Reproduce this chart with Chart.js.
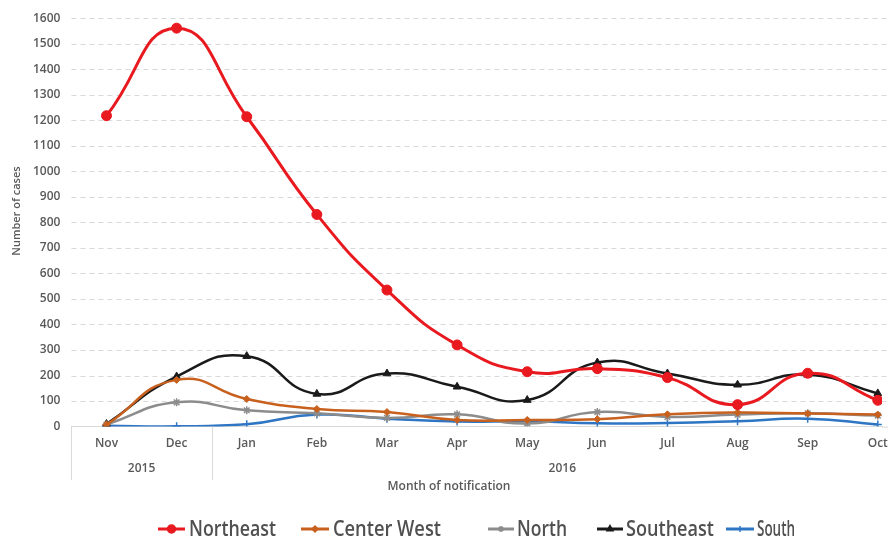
<!DOCTYPE html>
<html><head><meta charset="utf-8">
<script src="https://cdn.jsdelivr.net/npm/chart.js@4/dist/chart.umd.min.js"></script>
<style>html,body{margin:0;padding:0;background:#fff;overflow:hidden}canvas{display:block}</style>
</head><body>
<canvas id="c" width="888" height="540"></canvas>
<script>
const months = ['Nov','Dec','Jan','Feb','Mar','Apr','May','Jun','Jul','Aug','Sep','Oct'];
const years = [{label:'2015', from:0, to:1}, {label:'2016', from:2, to:11}];
const seriesNames = ['Northeast','Center West','North','Southeast','South'];
const northeast  = [1218,1561,1214,831,535,320,215,227,192,86,209,103];
const centerWest = [8,183,108,69,57,26,26,29,48,55,51,47];
const north      = [8,95,64,52,34,48,12,57,38,47,52,43];
const southeast  = [10,196,276,128,208,156,104,251,208,164,203,130];
const south      = [3,1,9,47,31,20,21,13,14,21,31,8];
const yMax = 1600, yStep = 100;

const TXT = '#595959';
const FONT = '"Open Sans", "Noto Sans", sans-serif';
const styles = [
  {color:'#e8191f', pointStyle:'circle',   radius:5,   width:3},
  {color:'#c8601e', pointStyle:'rectRot',  radius:3.5, width:2.5},
  {color:'#8c8c8c', pointStyle:'star',     radius:4,   width:2.5},
  {color:'#1a1a1a', pointStyle:'triangle', radius:4.5, width:2.5},
  {color:'#2e75c4', pointStyle:'cross',    radius:4,   width:2.5}
];
const values = [northeast, centerWest, north, southeast, south];

const datasets = values.map((vals, k) => ({
  label: seriesNames[k],
  data: vals.map((v, i) => ({x: i, y: v})),
  borderColor: styles[k].color,
  backgroundColor: styles[k].color,
  pointBackgroundColor: styles[k].color,
  pointBorderColor: styles[k].color,
  pointStyle: styles[k].pointStyle,
  pointRadius: styles[k].radius,
  pointBorderWidth: styles[k].pointStyle === 'star' || styles[k].pointStyle === 'cross' ? 1.5 : 1,
  borderWidth: styles[k].width,
  tension: 0.5,
  fill: false
}));

const legendPos = [
  {x0:158, x1:185, tx:189, tw:87},
  {x0:301, x1:329, tx:333, tw:108},
  {x0:488, x1:514, tx:517, tw:50},
  {x0:597, x1:623, tx:626, tw:88},
  {x0:726, x1:754, tx:757, tw:38}
];

const decor = {
  id: 'decor',
  beforeDatasetsDraw(chart) {
    const ctx = chart.ctx, y = chart.scales.y, a = chart.chartArea;
    ctx.save();
    ctx.strokeStyle = '#d9d9d9'; ctx.lineWidth = 1; ctx.setLineDash([5, 4]);
    y.ticks.forEach(t => {
      if (t.value === 0) return;
      const py = Math.round(y.getPixelForValue(t.value)) + 0.5;
      ctx.beginPath(); ctx.moveTo(a.left, py); ctx.lineTo(888, py); ctx.stroke();
    });
    ctx.restore();
  },
  afterDraw(chart) {
    const ctx = chart.ctx, x = chart.scales.x, a = chart.chartArea;
    ctx.save();
    ctx.strokeStyle = '#d9d9d9'; ctx.lineWidth = 1;
    [-0.5, 1.5].forEach(v => {
      const px = Math.round(x.getPixelForValue(v)) + 0.5;
      ctx.beginPath(); ctx.moveTo(px, a.bottom); ctx.lineTo(px, 480); ctx.stroke();
    });
    ctx.beginPath(); ctx.moveTo(a.right, a.bottom + 0.5); ctx.lineTo(888, a.bottom + 0.5); ctx.stroke();
    ctx.fillStyle = TXT; ctx.textAlign = 'center'; ctx.textBaseline = 'middle';
    ctx.font = '600 12px ' + FONT;
    years.forEach(y => {
      const c = (x.getPixelForValue(y.from - 0.5) + x.getPixelForValue(y.to + 0.5)) / 2;
      ctx.fillText(y.label, c, 469);
    });
    ctx.fillText('Month of notification', 449, 487);
    ctx.save();
    ctx.translate(17, 211); ctx.rotate(-Math.PI / 2);
    ctx.font = '600 11px ' + FONT;
    ctx.fillText('Number of cases', 0, 0);
    ctx.restore();
    const ly = 529;
    chart.data.datasets.forEach((ds, k) => {
      const p = legendPos[k], s = styles[k];
      ctx.strokeStyle = s.color; ctx.lineWidth = 3;
      ctx.beginPath(); ctx.moveTo(p.x0, ly); ctx.lineTo(p.x1, ly); ctx.stroke();
      ctx.fillStyle = s.color; ctx.lineWidth = 1.5;
      Chart.helpers.drawPoint(ctx, {pointStyle: s.pointStyle, radius: Math.max(3, s.radius - 1), rotation: 0, borderWidth: 1.5}, (p.x0 + p.x1) / 2, ly);
      ctx.save();
      ctx.font = '600 21px ' + FONT;
      ctx.fillStyle = '#505050'; ctx.textAlign = 'left'; ctx.textBaseline = 'middle';
      const w = ctx.measureText(ds.label).width;
      ctx.translate(p.tx, ly + 1);
      ctx.scale(p.tw / w, 1);
      ctx.fillText(ds.label, 0, 0);
      ctx.restore();
    });
    ctx.restore();
  }
};

new Chart(document.getElementById('c'), {
  type: 'line',
  data: { datasets },
  options: {
    responsive: false,
    animation: false,
    layout: { padding: { left: 22, right: 0, top: 6, bottom: 79 } },
    plugins: { legend: { display: false }, tooltip: { enabled: false } },
    scales: {
      x: {
        type: 'linear', min: -0.5, max: 11.06,
        afterBuildTicks: s => { s.ticks = months.map((m, i) => ({value: i})); },
        afterFit: s => { s.paddingLeft = 0; s.paddingRight = 0; },
        ticks: { callback: v => months[v] ?? '', color: TXT, font: {family: FONT, size: 12, weight: '600'}, padding: 10, autoSkip: false, maxRotation: 0 },
        grid: { display: false, drawTicks: false },
        border: { display: true, color: '#d9d9d9', width: 1 }
      },
      y: {
        min: 0, max: yMax,
        ticks: { stepSize: yStep, callback: v => String(v), color: TXT, font: {family: FONT, size: 12, weight: '600'}, padding: 11 },
        grid: { display: false, drawTicks: false },
        border: { display: false }
      }
    }
  },
  plugins: [decor]
});
</script>
</body></html>
